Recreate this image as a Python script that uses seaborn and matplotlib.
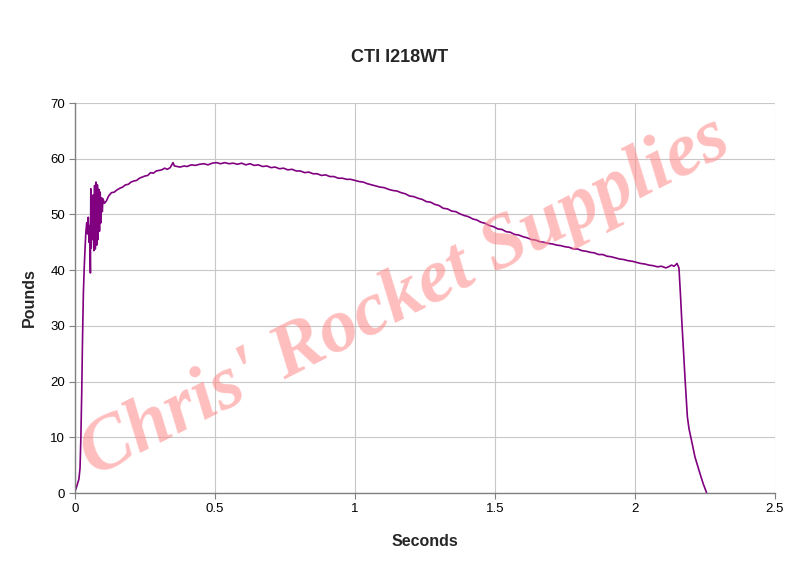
# -*- coding: utf-8 -*-
# CTI I218WT thrust curve (re-drawn)
import matplotlib
matplotlib.use("Agg")
import matplotlib.pyplot as plt
import seaborn as sns
import pandas as pd

# %% data
seconds = [
    0.000, 0.005, 0.010, 0.014, 0.018, 0.021, 0.024, 0.027, 0.030, 0.033,
    0.036, 0.039, 0.042, 0.045, 0.0475, 0.050, 0.0525, 0.055, 0.0565, 0.058,
    0.060, 0.0625, 0.065, 0.0675, 0.070, 0.0725, 0.075, 0.0775, 0.080, 0.0825,
    0.085, 0.0875, 0.090, 0.0925, 0.095, 0.0975, 0.100, 0.105, 0.112, 0.120,
    0.130, 0.140, 0.150, 0.160, 0.170, 0.180, 0.190, 0.200, 0.210, 0.220,
    0.230, 0.240, 0.250, 0.260, 0.270, 0.280, 0.290, 0.300, 0.310, 0.320,
    0.330, 0.340, 0.350, 0.355, 0.365, 0.375, 0.390, 0.400, 0.415, 0.430,
    0.445, 0.460, 0.475, 0.490, 0.505, 0.520, 0.535, 0.550, 0.565, 0.580,
    0.595, 0.610, 0.625, 0.640, 0.655, 0.670, 0.685, 0.700, 0.715, 0.730,
    0.745, 0.760, 0.775, 0.790, 0.805, 0.820, 0.835, 0.850, 0.865, 0.880,
    0.895, 0.910, 0.925, 0.940, 0.955, 0.970, 0.985, 1.000, 1.015, 1.030,
    1.045, 1.060, 1.075, 1.090, 1.105, 1.120, 1.135, 1.150, 1.165, 1.180,
    1.195, 1.210, 1.225, 1.240, 1.255, 1.270, 1.285, 1.300, 1.315, 1.330,
    1.345, 1.360, 1.375, 1.390, 1.405, 1.420, 1.435, 1.450, 1.465, 1.480,
    1.495, 1.510, 1.525, 1.540, 1.555, 1.570, 1.585, 1.600, 1.615, 1.630,
    1.645, 1.660, 1.675, 1.690, 1.705, 1.720, 1.735, 1.750, 1.765, 1.780,
    1.795, 1.810, 1.825, 1.840, 1.855, 1.870, 1.885, 1.900, 1.915, 1.930,
    1.945, 1.960, 1.975, 1.990, 2.005, 2.020, 2.035, 2.050, 2.065, 2.080,
    2.095, 2.110, 2.120, 2.130, 2.140, 2.150, 2.157, 2.163, 2.167, 2.173,
    2.179, 2.187, 2.193, 2.199, 2.207, 2.214, 2.223, 2.232, 2.244, 2.256,
]
pounds = [
    0.3, 1.0, 1.8, 2.5, 4.5, 10.0, 18.0, 28.0, 36.0, 40.5,
    44.0, 47.0, 48.5, 46.5, 49.5, 45.0, 48.0, 39.5, 54.6, 44.0,
    50.5, 45.5, 53.5, 43.5, 55.2, 43.8, 55.8, 44.5, 55.3, 45.5,
    54.5, 47.0, 54.0, 48.5, 53.0, 50.5, 52.8, 52.0, 52.4, 53.3,
    53.9, 54.0, 54.4, 54.7, 54.9, 55.3, 55.4, 55.8, 56.0, 56.1,
    56.5, 56.7, 56.9, 57.0, 57.5, 57.4, 57.8, 57.9, 58.0, 58.3,
    58.1, 58.4, 59.3, 58.7, 58.6, 58.5, 58.7, 58.6, 58.9, 58.8,
    59.0, 59.1, 58.9, 59.2, 59.3, 59.1, 59.3, 59.1, 59.2, 59.0,
    59.2, 58.9, 59.1, 58.8, 58.9, 58.6, 58.7, 58.4, 58.5, 58.2,
    58.3, 58.0, 58.1, 57.8, 57.8, 57.5, 57.6, 57.3, 57.3, 57.0,
    57.1, 56.8, 56.8, 56.5, 56.5, 56.3, 56.3, 56.1, 55.9, 55.8,
    55.5, 55.3, 55.1, 54.9, 54.8, 54.5, 54.3, 54.2, 53.9, 53.7,
    53.3, 53.2, 52.9, 52.7, 52.3, 52.2, 51.8, 51.6, 51.1, 51.0,
    50.6, 50.5, 50.1, 49.8, 49.6, 49.2, 49.0, 48.6, 48.4, 48.0,
    47.8, 47.4, 47.3, 46.9, 46.8, 46.4, 46.3, 46.0, 45.8, 45.5,
    45.4, 45.1, 45.0, 44.8, 44.7, 44.5, 44.4, 44.2, 44.1, 43.8,
    43.8, 43.5, 43.4, 43.2, 43.1, 42.8, 42.8, 42.5, 42.4, 42.2,
    42.0, 41.9, 41.7, 41.6, 41.4, 41.2, 41.1, 40.9, 40.8, 40.6,
    40.7, 40.4, 40.6, 40.9, 40.7, 41.2, 40.4, 35.0, 31.0, 25.5,
    20.3, 13.7, 11.5, 10.1, 8.2, 6.5, 5.0, 3.5, 1.6, 0.0,
]
x_ticks = [0, 0.5, 1, 1.5, 2, 2.5]
x_tick_labels = ["0", "0.5", "1", "1.5", "2", "2.5"]
y_ticks = [0, 10, 20, 30, 40, 50, 60, 70]

df = pd.DataFrame({"Seconds": seconds, "Pounds": pounds})

# %% style
sns.set_theme(style="whitegrid")
plt.rcParams["font.family"] = ["Liberation Sans", "DejaVu Sans"]

fig = plt.figure(figsize=(7.99, 5.74), dpi=100)
ax = fig.add_axes([75 / 799, 1 - 493 / 574, 700 / 799, 390 / 574])

# watermark
fig.text(0.507, 0.482, "Chris' Rocket Supplies", family="Liberation Serif",
         style="italic", fontweight="bold", fontsize=55, color="#ff8888",
         alpha=0.55, rotation=27, ha="center", va="center",
         rotation_mode="anchor", zorder=0)
ax.set_facecolor("none")

sns.lineplot(data=df, x="Seconds", y="Pounds", ax=ax, color="#800080",
             linewidth=1.2, estimator=None, sort=False)

ax.set_xlim(0, 2.5)
ax.set_ylim(0, 70)
ax.set_xticks(x_ticks)
ax.set_xticklabels(x_tick_labels)
ax.set_yticks(y_ticks)
ax.grid(True, color="#c8c8c8", linewidth=0.8)
for side in ["top", "right"]:
    ax.spines[side].set_visible(False)
for side in ["left", "bottom"]:
    ax.spines[side].set_color("#808080")
    ax.spines[side].set_linewidth(1.0)
ax.tick_params(axis="both", length=4, width=0.8, color="#808080",
               labelsize=9.5, labelcolor="black", pad=3, direction="out",
               left=True, bottom=True)

ax.set_xlabel("Seconds", fontsize=11.5, fontweight="bold", labelpad=14)
ax.set_ylabel("Pounds", fontsize=11.5, fontweight="bold", labelpad=10)
fig.text(0.5, 1 - 57 / 574, "CTI I218WT", fontsize=13, fontweight="bold",
         ha="center", va="center")

plt.savefig("out.png", dpi=100)
